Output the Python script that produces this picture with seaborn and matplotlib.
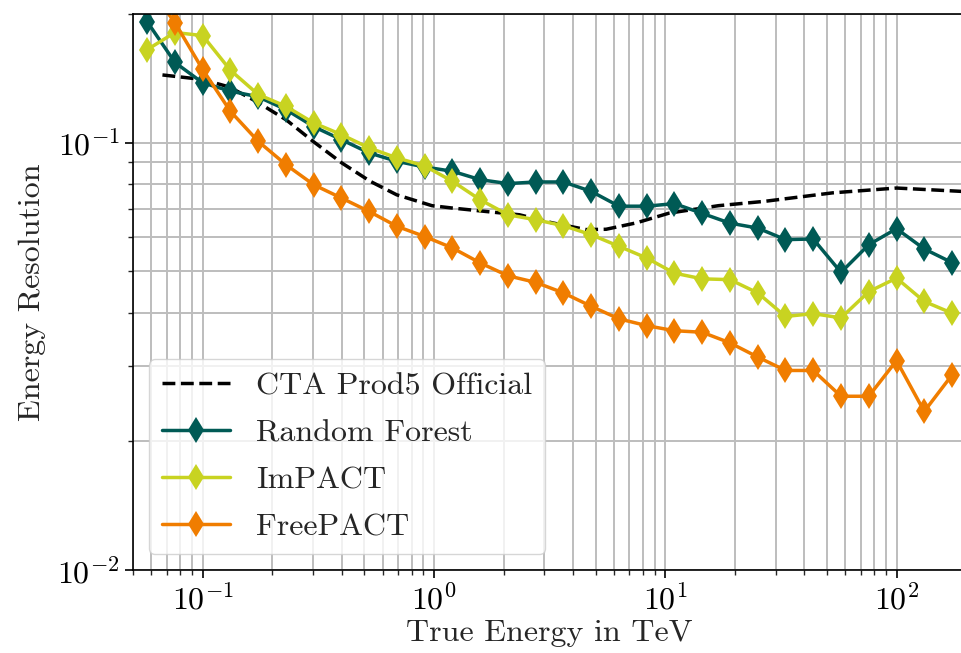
import matplotlib
matplotlib.use("Agg")
import matplotlib.pyplot as plt
import seaborn as sns
import pandas as pd

# ---- data ----
energy_bins = [0.0575, 0.0759, 0.1, 0.1318, 0.1738, 0.2291, 0.3020, 0.3981, 0.5248,
               0.6918, 0.9120, 1.202, 1.585, 2.089, 2.754, 3.631, 4.786, 6.310,
               8.318, 10.96, 14.45, 19.05, 25.12, 33.11, 43.65, 57.54, 75.86,
               100.0, 131.8, 173.8]

random_forest = [0.192, 0.154, 0.138, 0.132, 0.128, 0.1195, 0.109, 0.1016, 0.0946,
                 0.0904, 0.0877, 0.0857, 0.0819, 0.0802, 0.0809, 0.0809, 0.0769,
                 0.0710, 0.0710, 0.0720, 0.0683, 0.0648, 0.0631, 0.0593, 0.0595,
                 0.0497, 0.0577, 0.0629, 0.0564, 0.0524]

impact = [0.165, 0.181, 0.178, 0.1477, 0.1296, 0.1216, 0.1112, 0.1044, 0.0972,
          0.0921, 0.0882, 0.0812, 0.0735, 0.0678, 0.0660, 0.0639, 0.0609, 0.0572,
          0.0537, 0.0495, 0.0480, 0.0478, 0.0445, 0.0392, 0.0398, 0.0389, 0.0448,
          0.0482, 0.0425, 0.0399]

freepact = [0.235, 0.1907, 0.1483, 0.1184, 0.1007, 0.0888, 0.0797, 0.0742, 0.0690,
            0.0637, 0.0603, 0.0567, 0.0523, 0.0488, 0.0471, 0.0445, 0.0414, 0.0387,
            0.0373, 0.0363, 0.0360, 0.0340, 0.0315, 0.0293, 0.0293, 0.0255, 0.0255,
            0.0309, 0.0235, 0.0286]

prod5_energy = [0.067, 0.1, 0.13, 0.17, 0.23, 0.30, 0.40, 0.53, 0.69, 0.98, 1.2,
                1.68, 2.34, 3.25, 4.55, 5.55, 7.5, 10.4, 17.0, 27.0, 53.0, 100.0, 200.0]
prod5_resolution = [0.144, 0.1405, 0.135, 0.125, 0.113, 0.1007, 0.0896, 0.0812,
                    0.0755, 0.0712, 0.0703, 0.0690, 0.0678, 0.0649, 0.0626, 0.0627,
                    0.0649, 0.0684, 0.0712, 0.0729, 0.0763, 0.0783, 0.0768]

series_names = ["Random Forest", "ImPACT", "FreePACT"]
series_colors = ["#005a55", "#c8d321", "#f07d00"]

# ---- style ----
sns.set_style("ticks")
plt.rcParams["font.family"] = ["cmr10", "DejaVu Serif"]
plt.rcParams["mathtext.fontset"] = "cm"
plt.rcParams["axes.formatter.use_mathtext"] = True
plt.rcParams["axes.unicode_minus"] = True

FS = 23

fig = plt.figure(figsize=(9.62, 6.53), dpi=100)
ax = fig.add_axes([0.1383, 0.1271, 0.866, 0.8515])

sns.lineplot(x=prod5_energy, y=prod5_resolution, ax=ax, color="black",
             linestyle="--", linewidth=2.5, label="CTA Prod5 Official",
             estimator=None, sort=False)

for name, vals, col in zip(series_names, [random_forest, impact, freepact], series_colors):
    df = pd.DataFrame({"energy": energy_bins, "res": vals})
    sns.lineplot(data=df, x="energy", y="res", ax=ax, color=col, linewidth=2.5,
                 marker="d", markersize=13, markeredgewidth=0, label=name,
                 estimator=None, sort=False)

ax.set_xscale("log")
ax.set_yscale("log")
ax.set_xlim(0.05, 200)
ax.set_ylim(0.01, 0.2)

ax.grid(True, which="both", color="#bdbdbd", linewidth=1.4)
ax.set_axisbelow(True)
for s in ["left", "bottom", "top", "right"]:
    ax.spines[s].set_visible(True)
    ax.spines[s].set_color("black")
    ax.spines[s].set_linewidth(1.2)

ax.tick_params(axis="both", which="major", labelsize=FS, length=6, width=1.2,
               direction="out", colors="black")
ax.tick_params(axis="both", which="minor", length=3.5, width=1.0, direction="out")

ax.set_xlabel("True Energy in TeV", fontsize=FS, labelpad=3)
ax.set_ylabel("Energy Resolution", fontsize=FS, labelpad=8)

leg = ax.legend(loc="lower left", fontsize=FS, frameon=True, fancybox=True,
                framealpha=0.8, edgecolor="#cccccc", handlelength=2.15,
                labelspacing=0.58, borderaxespad=0.5)

fig.savefig("out.png", dpi=100)
